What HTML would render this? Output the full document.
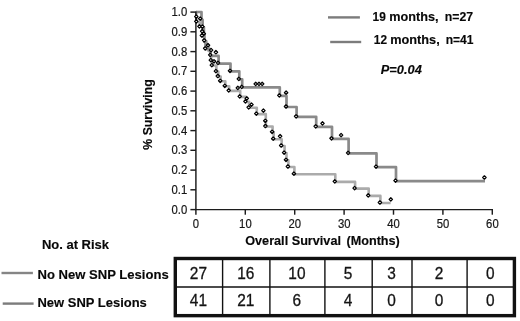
<!DOCTYPE html>
<html lang="en">
<head>
<meta charset="utf-8">
<title>Overall Survival</title>
<style>
html,body{margin:0;padding:0;background:#fff;}
body{width:520px;height:321px;overflow:hidden;position:relative;font-family:"Liberation Sans",Arial,sans-serif;}
</style>
</head>
<body>
<svg width="520" height="321" viewBox="0 0 520 321" style="position:absolute;left:0;top:0;will-change:transform;opacity:0.999">
<rect width="520" height="321" fill="#fff"/>
<path d="M196.0 12.0 H196.3 V22.0 H199.7 V26.8 H202.4 V31.6 H202.5 V36.4 H204.3 V41.3 H206.5 V46.1 H208.6 V50.9 H210.5 V55.8 H211.1 V60.6 H212.1 V65.5 H216.4 V71.6 H218.3 V76.5 H220.7 V81.3 H225.3 V86.3 H229.2 V90.9 H240.2 V96.9 H245.9 V101.9 H249.2 V107.8 H256.8 V114.1 H265.8 V121.3 H265.9 V126.5 H272.6 V132.3 H273.7 V139.2 H281.7 V146.0 H284.6 V153.1 H286.5 V160.3 H288.4 V167.0 H294.4 V174.2 H335.3 V181.9 H355.1 V188.6 H368.7 V195.9 H380.4 V203.0 H390.6" fill="none" stroke="#ababab" stroke-width="2.6" stroke-linejoin="round"/>
<path d="M196.0 12.0 H201.5 V19.8 H202.6 V27.2 H203.9 V34.5 H204.4 V41.8 H205.5 V49.2 H210.4 V55.9 H218.6 V63.6 H230.5 V71.3 H239.3 V79.4 H242.2 V87.4 H279.8 V95.9 H286.5 V107.0 H296.6 V116.8 H316.2 V126.8 H332.0 V138.8 H348.6 V153.4 H376.5 V167.1 H396.0 V181.1 H485.0" fill="none" stroke="#8a8a8a" stroke-width="2.7" stroke-linejoin="round"/>
<g stroke="#1c1c1c" stroke-width="1.45" fill="none">
<path d="M195.9 11.6 V209.6 H493.0"/>
<path d="M190.4 209.6 H195.9"/>
<path d="M190.4 189.8 H195.9"/>
<path d="M190.4 170.1 H195.9"/>
<path d="M190.4 150.3 H195.9"/>
<path d="M190.4 130.6 H195.9"/>
<path d="M190.4 110.8 H195.9"/>
<path d="M190.4 91.1 H195.9"/>
<path d="M190.4 71.3 H195.9"/>
<path d="M190.4 51.6 H195.9"/>
<path d="M190.4 31.8 H195.9"/>
<path d="M190.4 12.1 H195.9"/>
<path d="M195.9 209.6 V214.7"/>
<path d="M245.3 209.6 V214.7"/>
<path d="M294.7 209.6 V214.7"/>
<path d="M344.1 209.6 V214.7"/>
<path d="M393.5 209.6 V214.7"/>
<path d="M442.9 209.6 V214.7"/>
<path d="M492.3 209.6 V214.7"/>
</g>
<g fill="#fff" stroke="#000" stroke-width="1.25" stroke-linejoin="round">
<path d="M214.20 71.10 l1.70 -1.70 l1.70 1.70 l-1.70 1.70 Z"/>
<path d="M216.10 76.00 l1.70 -1.70 l1.70 1.70 l-1.70 1.70 Z"/>
<path d="M218.50 80.80 l1.70 -1.70 l1.70 1.70 l-1.70 1.70 Z"/>
<path d="M223.10 85.80 l1.70 -1.70 l1.70 1.70 l-1.70 1.70 Z"/>
<path d="M227.00 90.40 l1.70 -1.70 l1.70 1.70 l-1.70 1.70 Z"/>
<path d="M238.00 96.40 l1.70 -1.70 l1.70 1.70 l-1.70 1.70 Z"/>
<path d="M243.70 101.40 l1.70 -1.70 l1.70 1.70 l-1.70 1.70 Z"/>
<path d="M247.00 107.30 l1.70 -1.70 l1.70 1.70 l-1.70 1.70 Z"/>
<path d="M254.60 113.60 l1.70 -1.70 l1.70 1.70 l-1.70 1.70 Z"/>
<path d="M263.60 120.80 l1.70 -1.70 l1.70 1.70 l-1.70 1.70 Z"/>
<path d="M263.70 126.00 l1.70 -1.70 l1.70 1.70 l-1.70 1.70 Z"/>
<path d="M270.40 131.80 l1.70 -1.70 l1.70 1.70 l-1.70 1.70 Z"/>
<path d="M271.50 138.70 l1.70 -1.70 l1.70 1.70 l-1.70 1.70 Z"/>
<path d="M279.50 145.50 l1.70 -1.70 l1.70 1.70 l-1.70 1.70 Z"/>
<path d="M282.40 152.60 l1.70 -1.70 l1.70 1.70 l-1.70 1.70 Z"/>
<path d="M284.30 159.80 l1.70 -1.70 l1.70 1.70 l-1.70 1.70 Z"/>
<path d="M286.20 166.50 l1.70 -1.70 l1.70 1.70 l-1.70 1.70 Z"/>
<path d="M292.20 173.70 l1.70 -1.70 l1.70 1.70 l-1.70 1.70 Z"/>
<path d="M333.10 181.40 l1.70 -1.70 l1.70 1.70 l-1.70 1.70 Z"/>
<path d="M352.90 188.10 l1.70 -1.70 l1.70 1.70 l-1.70 1.70 Z"/>
<path d="M366.50 195.40 l1.70 -1.70 l1.70 1.70 l-1.70 1.70 Z"/>
<path d="M378.20 202.50 l1.70 -1.70 l1.70 1.70 l-1.70 1.70 Z"/>
<path d="M228.30 70.80 l1.70 -1.70 l1.70 1.70 l-1.70 1.70 Z"/>
<path d="M237.10 78.90 l1.70 -1.70 l1.70 1.70 l-1.70 1.70 Z"/>
<path d="M240.00 86.90 l1.70 -1.70 l1.70 1.70 l-1.70 1.70 Z"/>
<path d="M277.60 95.40 l1.70 -1.70 l1.70 1.70 l-1.70 1.70 Z"/>
<path d="M284.30 106.50 l1.70 -1.70 l1.70 1.70 l-1.70 1.70 Z"/>
<path d="M294.40 116.30 l1.70 -1.70 l1.70 1.70 l-1.70 1.70 Z"/>
<path d="M314.00 126.30 l1.70 -1.70 l1.70 1.70 l-1.70 1.70 Z"/>
<path d="M329.80 138.30 l1.70 -1.70 l1.70 1.70 l-1.70 1.70 Z"/>
<path d="M346.40 152.90 l1.70 -1.70 l1.70 1.70 l-1.70 1.70 Z"/>
<path d="M374.30 166.60 l1.70 -1.70 l1.70 1.70 l-1.70 1.70 Z"/>
<path d="M393.80 180.60 l1.70 -1.70 l1.70 1.70 l-1.70 1.70 Z"/>
<path d="M194.60 16.60 l1.70 -1.70 l1.70 1.70 l-1.70 1.70 Z"/>
<path d="M194.60 21.40 l1.70 -1.70 l1.70 1.70 l-1.70 1.70 Z"/>
<path d="M198.50 18.60 l1.70 -1.70 l1.70 1.70 l-1.70 1.70 Z"/>
<path d="M197.70 26.40 l1.70 -1.70 l1.70 1.70 l-1.70 1.70 Z"/>
<path d="M200.70 26.60 l1.70 -1.70 l1.70 1.70 l-1.70 1.70 Z"/>
<path d="M200.50 31.20 l1.70 -1.70 l1.70 1.70 l-1.70 1.70 Z"/>
<path d="M202.10 33.70 l1.70 -1.70 l1.70 1.70 l-1.70 1.70 Z"/>
<path d="M200.20 35.50 l1.70 -1.70 l1.70 1.70 l-1.70 1.70 Z"/>
<path d="M202.50 40.30 l1.70 -1.70 l1.70 1.70 l-1.70 1.70 Z"/>
<path d="M206.30 45.20 l1.70 -1.70 l1.70 1.70 l-1.70 1.70 Z"/>
<path d="M203.50 48.30 l1.70 -1.70 l1.70 1.70 l-1.70 1.70 Z"/>
<path d="M209.40 50.10 l1.70 -1.70 l1.70 1.70 l-1.70 1.70 Z"/>
<path d="M214.20 52.20 l1.70 -1.70 l1.70 1.70 l-1.70 1.70 Z"/>
<path d="M208.50 54.90 l1.70 -1.70 l1.70 1.70 l-1.70 1.70 Z"/>
<path d="M209.10 60.10 l1.70 -1.70 l1.70 1.70 l-1.70 1.70 Z"/>
<path d="M212.30 61.30 l1.70 -1.70 l1.70 1.70 l-1.70 1.70 Z"/>
<path d="M216.30 62.90 l1.70 -1.70 l1.70 1.70 l-1.70 1.70 Z"/>
<path d="M210.10 65.10 l1.70 -1.70 l1.70 1.70 l-1.70 1.70 Z"/>
<path d="M254.00 83.90 l1.70 -1.70 l1.70 1.70 l-1.70 1.70 Z"/>
<path d="M257.30 83.90 l1.70 -1.70 l1.70 1.70 l-1.70 1.70 Z"/>
<path d="M260.50 83.90 l1.70 -1.70 l1.70 1.70 l-1.70 1.70 Z"/>
<path d="M284.40 92.70 l1.70 -1.70 l1.70 1.70 l-1.70 1.70 Z"/>
<path d="M320.80 123.40 l1.70 -1.70 l1.70 1.70 l-1.70 1.70 Z"/>
<path d="M339.40 135.10 l1.70 -1.70 l1.70 1.70 l-1.70 1.70 Z"/>
<path d="M482.70 177.50 l1.70 -1.70 l1.70 1.70 l-1.70 1.70 Z"/>
<path d="M236.10 87.90 l1.70 -1.70 l1.70 1.70 l-1.70 1.70 Z"/>
<path d="M245.10 98.40 l1.70 -1.70 l1.70 1.70 l-1.70 1.70 Z"/>
<path d="M249.80 104.60 l1.70 -1.70 l1.70 1.70 l-1.70 1.70 Z"/>
<path d="M261.70 110.60 l1.70 -1.70 l1.70 1.70 l-1.70 1.70 Z"/>
<path d="M278.40 136.20 l1.70 -1.70 l1.70 1.70 l-1.70 1.70 Z"/>
<path d="M389.10 199.40 l1.70 -1.70 l1.70 1.70 l-1.70 1.70 Z"/>
</g>
<g font-family="'Liberation Sans', Arial, sans-serif" font-size="12.3" fill="#161616" stroke="#161616" stroke-width="0.2">
<text transform="translate(187.3 213.6) scale(0.92 1)" text-anchor="end">0.0</text>
<text transform="translate(187.3 193.8) scale(0.92 1)" text-anchor="end">0.1</text>
<text transform="translate(187.3 174.1) scale(0.92 1)" text-anchor="end">0.2</text>
<text transform="translate(187.3 154.3) scale(0.92 1)" text-anchor="end">0.3</text>
<text transform="translate(187.3 134.6) scale(0.92 1)" text-anchor="end">0.4</text>
<text transform="translate(187.3 114.8) scale(0.92 1)" text-anchor="end">0.5</text>
<text transform="translate(187.3 95.1) scale(0.92 1)" text-anchor="end">0.6</text>
<text transform="translate(187.3 75.3) scale(0.92 1)" text-anchor="end">0.7</text>
<text transform="translate(187.3 55.6) scale(0.92 1)" text-anchor="end">0.8</text>
<text transform="translate(187.3 35.8) scale(0.92 1)" text-anchor="end">0.9</text>
<text transform="translate(187.3 16.1) scale(0.92 1)" text-anchor="end">1.0</text>
<text transform="translate(196.0 228.2) scale(0.92 1)" text-anchor="middle">0</text>
<text transform="translate(245.4 228.2) scale(0.92 1)" text-anchor="middle">10</text>
<text transform="translate(294.8 228.2) scale(0.92 1)" text-anchor="middle">20</text>
<text transform="translate(344.2 228.2) scale(0.92 1)" text-anchor="middle">30</text>
<text transform="translate(393.6 228.2) scale(0.92 1)" text-anchor="middle">40</text>
<text transform="translate(443.0 228.2) scale(0.92 1)" text-anchor="middle">50</text>
<text transform="translate(492.4 228.2) scale(0.92 1)" text-anchor="middle">60</text>
</g>
<g font-family="'Liberation Sans', Arial, sans-serif" font-weight="bold" fill="#080808" stroke="#080808" stroke-width="0.15">
<text transform="translate(152.3 149.7) rotate(-90)" font-size="12.4" textLength="70.4" lengthAdjust="spacingAndGlyphs">% Surviving</text>
<text x="245.2" y="244.9" font-size="13.5" textLength="95.8" lengthAdjust="spacingAndGlyphs">Overall Survival</text>
<text x="346.5" y="244.9" font-size="13.5" textLength="53.3" lengthAdjust="spacingAndGlyphs">(Months)</text>
<text x="41.9" y="249.4" font-size="13.1" textLength="67.2" lengthAdjust="spacingAndGlyphs">No. at Risk</text>
<text x="37.5" y="279.1" font-size="13" textLength="131.2" lengthAdjust="spacingAndGlyphs">No New SNP Lesions</text>
<text x="37.5" y="306.9" font-size="13" textLength="109.3" lengthAdjust="spacingAndGlyphs">New SNP Lesions</text>
<text x="372.6" y="20.8" font-size="13" textLength="13.2" lengthAdjust="spacingAndGlyphs">19</text>
<text x="389.2" y="20.8" font-size="13" textLength="49.3" lengthAdjust="spacingAndGlyphs">months,</text>
<text x="444.8" y="20.8" font-size="13" textLength="28.3" lengthAdjust="spacingAndGlyphs">n=27</text>
<text x="373.8" y="44.4" font-size="13" textLength="13.2" lengthAdjust="spacingAndGlyphs">12</text>
<text x="390.2" y="44.4" font-size="13" textLength="49.5" lengthAdjust="spacingAndGlyphs">months,</text>
<text x="445.7" y="44.4" font-size="13" textLength="27.8" lengthAdjust="spacingAndGlyphs">n=41</text>
<text x="380.8" y="73.9" font-size="13.5" font-style="italic" textLength="41" lengthAdjust="spacingAndGlyphs">P=0.04</text>
</g>
<g stroke-width="2.4" fill="none">
<path d="M328 17.4 H359.9" stroke="#7c7c7c"/>
<path d="M330.2 42 H361.2" stroke="#7c7c7c"/>
<path d="M1.5 273 H32.9" stroke="#858585"/>
<path d="M2.7 303.6 H33.6" stroke="#7c7c7c"/>
</g>
<g stroke="#111" fill="none">
<rect x="175.3" y="258.5" width="339.1" height="57.15" stroke-width="3.4"/>
<path d="M175 287 H514" stroke-width="1.4"/>
<path d="M222.6 259 V315" stroke-width="1.4"/>
<path d="M269.9 259 V315" stroke-width="1.4"/>
<path d="M324.9 259 V315" stroke-width="1.4"/>
<path d="M372.2 259 V315" stroke-width="1.4"/>
<path d="M412.0 259 V315" stroke-width="1.4"/>
<path d="M467.1 259 V315" stroke-width="1.4"/>
</g>
<g font-family="'Liberation Sans', Arial, sans-serif" font-size="16.7" fill="#141414" stroke="#141414" stroke-width="0.3" text-anchor="middle">
<text transform="translate(198.4 278.5) scale(0.925 1)">27</text>
<text transform="translate(198.4 306.3) scale(0.925 1)">41</text>
<text transform="translate(245.8 278.5) scale(0.925 1)">16</text>
<text transform="translate(245.8 306.3) scale(0.925 1)">21</text>
<text transform="translate(296.9 278.5) scale(0.925 1)">10</text>
<text transform="translate(296.9 306.3) scale(0.925 1)">6</text>
<text transform="translate(348.0 278.5) scale(0.925 1)">5</text>
<text transform="translate(348.0 306.3) scale(0.925 1)">4</text>
<text transform="translate(391.6 278.5) scale(0.925 1)">3</text>
<text transform="translate(391.6 306.3) scale(0.925 1)">0</text>
<text transform="translate(439.1 278.5) scale(0.925 1)">2</text>
<text transform="translate(439.1 306.3) scale(0.925 1)">0</text>
<text transform="translate(490.2 278.5) scale(0.925 1)">0</text>
<text transform="translate(490.2 306.3) scale(0.925 1)">0</text>
</g>
</svg>
</body>
</html>
